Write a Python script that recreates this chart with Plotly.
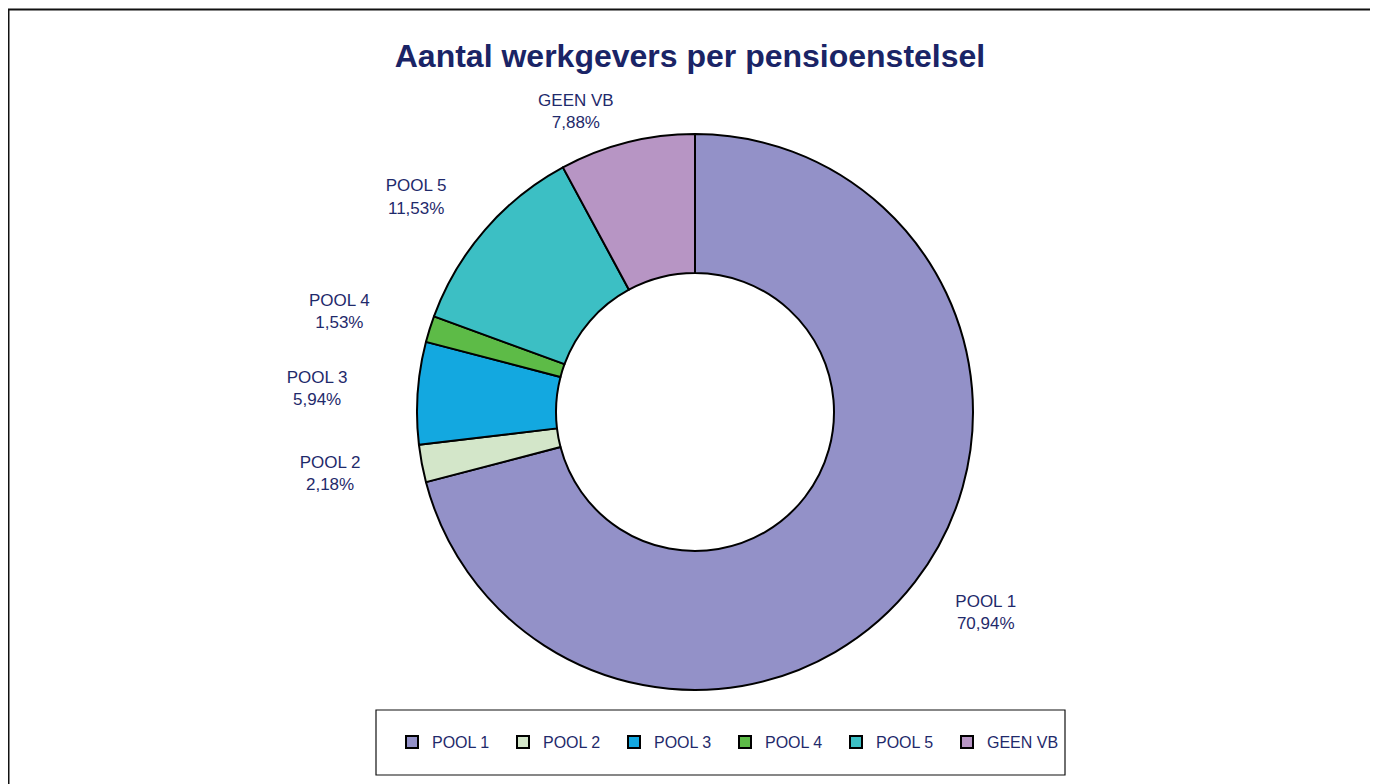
import plotly.graph_objects as go

categories = ["POOL 1", "POOL 2", "POOL 3", "POOL 4", "POOL 5", "GEEN VB"]
values = [70.94, 2.18, 5.94, 1.53, 11.53, 7.88]
colors = ["#9391C8", "#D3E6C9", "#13A8E0", "#5DBB47", "#3CBFC4", "#B795C4"]

# layout parameters (pixels)
W, H = 1378, 784
CX, CY, RADIUS = 687, 404, 278
label_radius = [316, 330, 338, 330, 315, 290]

navy = "#1F2A6B"
font_lab = "Liberation Sans, Arial, sans-serif"


def fx(x):
    return x / W


def fy(y):
    return 1 - y / H


def dom(r):
    return dict(x=[fx(CX - r), fx(CX + r)], y=[fy(CY + r), fy(CY - r)])


fig = go.Figure()
fig.add_trace(go.Pie(
    labels=categories,
    values=values,
    hole=0.5,
    sort=False,
    direction="clockwise",
    rotation=0,
    domain=dom(RADIUS),
    marker=dict(colors=colors, line=dict(color="#000000", width=2)),
    textinfo="none",
    hoverinfo="label+percent",
))

# invisible rings carrying the outside labels, one label per ring
n = len(categories)
for i, r in enumerate(label_radius):
    fig.add_trace(go.Pie(
        labels=categories,
        values=values,
        hole=0.95,
        sort=False,
        direction="clockwise",
        rotation=0,
        domain=dom(r),
        marker=dict(colors=["rgba(0,0,0,0)"] * n, line=dict(width=0)),
        textposition=["outside" if j == i else "none" for j in range(n)],
        texttemplate="%{label}<br>%{value:.2f}%",
        textfont=dict(family=font_lab, size=17, color=navy),
        hoverinfo="skip",
        showlegend=False,
        automargin=False,
    ))

fig.update_layout(
    width=W, height=H,
    margin=dict(l=0, r=0, t=0, b=0),
    separators=",.",
    paper_bgcolor="white",
    plot_bgcolor="white",
    title=dict(
        text="<b>Aantal werkgevers per pensioenstelsel</b>",
        xref="container", yref="container",
        x=682 / W, xanchor="center",
        y=1 - 48 / H, yanchor="middle",
        font=dict(family="Liberation Sans, Arial, sans-serif", size=32, color="#1A2466"),
    ),
    showlegend=True,
    legend=dict(
        orientation="h",
        xref="paper", yref="paper",
        x=fx(384), xanchor="left",
        y=fy(734), yanchor="middle",
        entrywidth=66, entrywidthmode="pixels",
        font=dict(family=font_lab, size=16, color=navy),
        bgcolor="rgba(0,0,0,0)",
        itemclick=False, itemdoubleclick=False,
    ),
    shapes=[
        dict(type="rect", xref="paper", yref="paper",
             x0=fx(0.5), x1=fx(1420), y0=fy(1.5), y1=fy(820),
             line=dict(color="#111111", width=2), layer="below"),
        dict(type="rect", xref="paper", yref="paper",
             x0=fx(368), x1=fx(1057), y0=fy(767), y1=fy(702),
             line=dict(color="#111111", width=1.2), layer="below"),
    ],
)

fig.write_html("out.html")
